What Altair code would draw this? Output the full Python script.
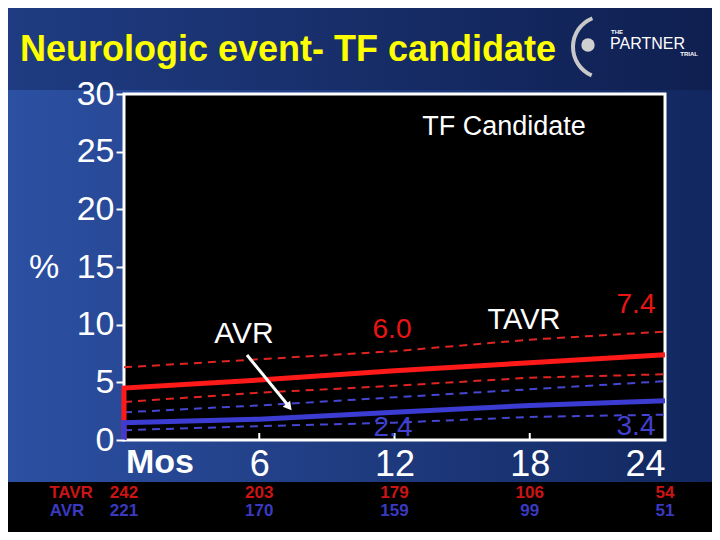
import altair as alt
import pandas as pd

# ---- data ----
months = [0, 6, 12, 18, 24]
tavr_est = [4.5, 5.2, 6.0, 6.7, 7.4]
tavr_hi = [6.3, 7.0, 7.7, 8.7, 9.4]
tavr_lo = [3.3, 4.1, 4.7, 5.4, 5.7]
avr_est = [1.5, 1.8, 2.4, 3.0, 3.4]
avr_hi = [2.4, 3.0, 3.7, 4.4, 5.1]
avr_lo = [0.85, 1.2, 1.5, 2.0, 2.2]
risk_tavr = ["242", "203", "179", "106", "54"]
risk_avr = ["221", "170", "159", "99", "51"]
y_ticks = [0, 5, 10, 15, 20, 25, 30]
x_ticks = [0, 6, 12, 18, 24]
inner_ticks = [6, 12, 18]

RED = "#ff1a1a"
BLUE = "#3c3cd2"
RED_D = "#e02424"
BLUE_D = "#4646d0"
W, H = 541, 346
FONT = "Liberation Sans, Arial, sans-serif"
NARROW = "Liberation Sans Narrow, Arial Narrow, Liberation Sans, sans-serif"

xs = alt.Scale(domain=[0, 24], nice=False, zero=False)
ys = alt.Scale(domain=[0, 30], nice=False)


def series_df(vals, start_at_zero):
    rows = []
    if start_at_zero:
        rows.append({"month": 0, "value": 0, "o": 0})
    for i, (m, v) in enumerate(zip(months, vals)):
        rows.append({"month": m, "value": v, "o": i + 1})
    return pd.DataFrame(rows)


one = pd.DataFrame({"a": [0]})


def grad(c1, c2):
    return alt.LinearGradient(
        gradient="linear",
        stops=[alt.GradientStop(color=c1, offset=0), alt.GradientStop(color=c2, offset=1)],
        x1=0, x2=1, y1=0, y2=0,
    )


# backgrounds (pixel positions relative to plot origin at page (124,94))
bg_top = alt.Chart(one).mark_rect(color=grad("#1f3c82", "#0f1f50")).encode(
    x=alt.value(-116), x2=alt.value(588), y=alt.value(-86), y2=alt.value(-4))
bg_mid = alt.Chart(one).mark_rect(color=grad("#2c50a2", "#12275f")).encode(
    x=alt.value(-116), x2=alt.value(588), y=alt.value(-4), y2=alt.value(388))
bg_bot = alt.Chart(one).mark_rect(color="#000000").encode(
    x=alt.value(-116), x2=alt.value(588), y=alt.value(388), y2=alt.value(440))
plot_bg = alt.Chart(one).mark_rect(color="black", stroke="white", strokeWidth=3).encode(
    x=alt.value(0), x2=alt.value(W), y=alt.value(0), y2=alt.value(H))

base_axes = alt.Chart(one).mark_point(opacity=0).encode(
    x=alt.X("xx:Q", scale=xs, axis=alt.Axis(
        values=x_ticks, title=None, domain=False, ticks=False, grid=False,
        labelExpr="datum.value == 0 ? '' : datum.label",
        labelColor="white", labelFontSize=36, labelFont=FONT, labelPadding=7, zindex=1)),
    y=alt.Y("yy:Q", scale=ys, axis=alt.Axis(
        values=y_ticks, title=None, domain=False, grid=False, tickColor="white",
        tickWidth=2, tickSize=8, labelColor="white", labelFontSize=34, labelFont=FONT,
        labelPadding=2, zindex=1)),
).transform_calculate(xx="0", yy="0")

ticks = alt.Chart(pd.DataFrame({"m": inner_ticks})).mark_rule(color="white", strokeWidth=2).encode(
    x=alt.X("m:Q", scale=xs), y=alt.value(H - 7), y2=alt.value(H))


def line(vals, color, dashed, start_at_zero):
    kw = dict(strokeWidth=2, strokeDash=[8, 6]) if dashed else dict(strokeWidth=5)
    return alt.Chart(series_df(vals, start_at_zero)).mark_line(color=color, **kw).encode(
        x=alt.X("month:Q", scale=xs), y=alt.Y("value:Q", scale=ys), order="o:Q")


lines = [
    line(tavr_hi, RED_D, True, False),
    line(tavr_lo, RED_D, True, False),
    line(avr_hi, BLUE_D, True, False),
    line(avr_lo, BLUE_D, True, False),
    line(tavr_est, RED, False, True),
    line(avr_est, BLUE, False, True),
]


def label(txt, x, y, color="white", size=28, weight="normal", align="center", font=FONT, baseline="middle"):
    return alt.Chart(one).mark_text(text=txt, color=color, fontSize=size, fontWeight=weight,
                                    align=align, baseline=baseline, font=font).encode(
        x=alt.value(x), y=alt.value(y))


annots = [
    label("TF Candidate", 380, 33, size=27),
    label("AVR", 120, 240, size=30),
    label("6.0", 268, 236, color="#e81515", size=28),
    label("TAVR", 400, 226, size=29),
    label("7.4", 512, 211, color="#e81515", size=28),
    label("2.4", 269, 334, color="#4040d0", size=28),
    label("3.4", 512, 333, color="#4040d0", size=28),
    label("%", -80, 174, size=34),
    label("Mos", 36, 369, size=34, weight="bold"),
    label("Neurologic event- TF candidate", -104, -44, color="#ffff00", size=36, weight="bold", align="left"),
    label("THE", 487, -62, size=6, weight="bold", align="left"),
    label("PARTNER", 486, -50, size=16, align="left"),
    label("TRIAL", 574, -40, size=6, weight="bold", align="right"),
    label("TAVR", -53, 399, color="#cc1414", size=17, weight="bold", font=NARROW),
    label("AVR", -57, 417, color="#3a3ac0", size=17, weight="bold", font=NARROW),
]

arrow = alt.Chart(one).mark_rule(color="white", strokeWidth=3).encode(
    x=alt.value(123), y=alt.value(261), x2=alt.value(163), y2=alt.value(310))
arrow_head = alt.Chart(one).mark_point(shape="triangle-up", filled=True, color="white", size=90,
                                       angle=141, opacity=1).encode(
    x=alt.value(165), y=alt.value(313))

logo_arc = alt.Chart(one).mark_arc(color="#c8c8c8", theta=3.55, theta2=5.9, radius=33, radius2=29).encode(
    x=alt.value(480), y=alt.value(-47))
logo_dot = alt.Chart(one).mark_point(shape="circle", filled=True, color="#d0d0d0", size=180, opacity=1).encode(
    x=alt.value(464), y=alt.value(-49))

risk_df = pd.DataFrame({"month": months, "tavr": risk_tavr, "avr": risk_avr})
risk_t = alt.Chart(risk_df).mark_text(color="#cc1414", fontSize=17, fontWeight="bold", font=NARROW,
                                      baseline="middle").encode(
    x=alt.X("month:Q", scale=xs), y=alt.value(399), text="tavr:N")
risk_a = alt.Chart(risk_df).mark_text(color="#3a3ac0", fontSize=17, fontWeight="bold", font=NARROW,
                                      baseline="middle").encode(
    x=alt.X("month:Q", scale=xs), y=alt.value(417), text="avr:N")

chart = alt.layer(
    bg_top, bg_mid, bg_bot, plot_bg, base_axes, ticks, *lines, arrow, arrow_head,
    logo_arc, logo_dot, risk_t, risk_a, *annots
).properties(
    width=W, height=H,
    padding={"left": 116, "top": 86, "right": 47, "bottom": 92},
    autosize=alt.AutoSizeParams(type="none"),
    background="#000000",
).configure_view(strokeWidth=0)

chart.save("out.html", embed_options={"renderer": "svg", "actions": False})
